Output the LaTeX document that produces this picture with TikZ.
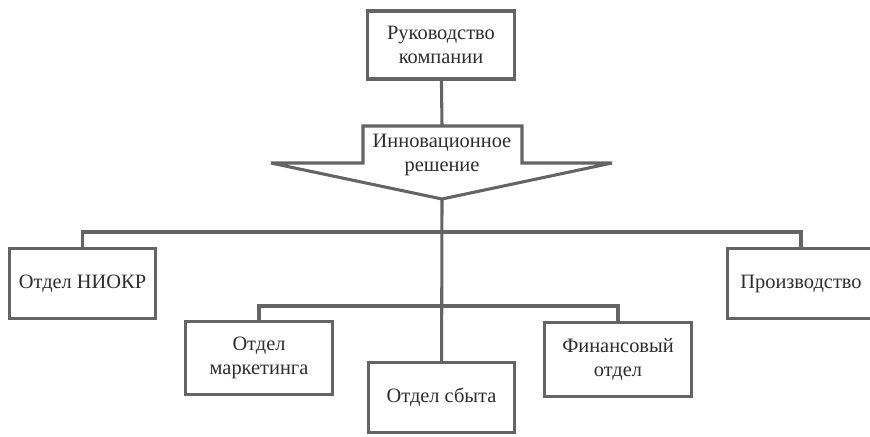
\documentclass[tikz,border=0pt]{standalone}
\usepackage{fontspec}
\setmainfont{Liberation Serif}
\usepackage{tikz}
\usetikzlibrary{positioning, calc}
\definecolor{linegray}{RGB}{100,100,100}
\definecolor{textgray}{RGB}{45,45,45}

\begin{document}
\begin{tikzpicture}[
    x=0.75pt, y=-0.75pt,
    unit/.style={draw=linegray, line width=2.3pt, fill=white, minimum width=110pt, minimum height=53pt, align=center, text=textgray, font=\fontsize{15.3}{17.5}\selectfont},
    link/.style={draw=linegray, line width=2.3pt}
]
    \useasboundingbox (0,0) rectangle (870,436);

    % Top
    \node[unit, minimum height=51pt] (head) at (441,45) {Руководство\\компании};

    % Decision arrow
    \draw[link, miter limit=4, fill=white] (363,126) -- (522,126) -- (522,163) -- (612,163)
        -- (442,199) -- (271,163) -- (363,163) -- cycle;
    \node[text=textgray, align=center, font=\fontsize{15.3}{17.5}\selectfont] (decision) at (442,155) {Инновационное\\решение};
    \coordinate (stemtop) at (442,126);
    \coordinate (tip) at (442,199);
    \coordinate (bus) at (442,232);
    \coordinate (bus2) at (442,306);

    % Departments
    \node[unit] (niokr) at (82.5,283.5) {Отдел НИОКР};
    \node[unit] (prod) at (801,283.5) {Производство};
    \node[unit, minimum height=55pt] (market) at (259,358) {Отдел\\маркетинга};
    \node[unit, minimum height=52pt] (sales) at (441.5,397.5) {Отдел сбыта};
    \node[unit, minimum height=55pt] (finance) at (618,359.5) {Финансовый\\отдел};

    % Links
    \draw[link] (head) -- (stemtop);
    \draw[link] (tip) -- (sales);
    \draw[link] (niokr.north) |- (bus) -| (prod.north);
    \draw[link] (market.north) |- (bus2) -| (finance.north);
\end{tikzpicture}
\end{document}
